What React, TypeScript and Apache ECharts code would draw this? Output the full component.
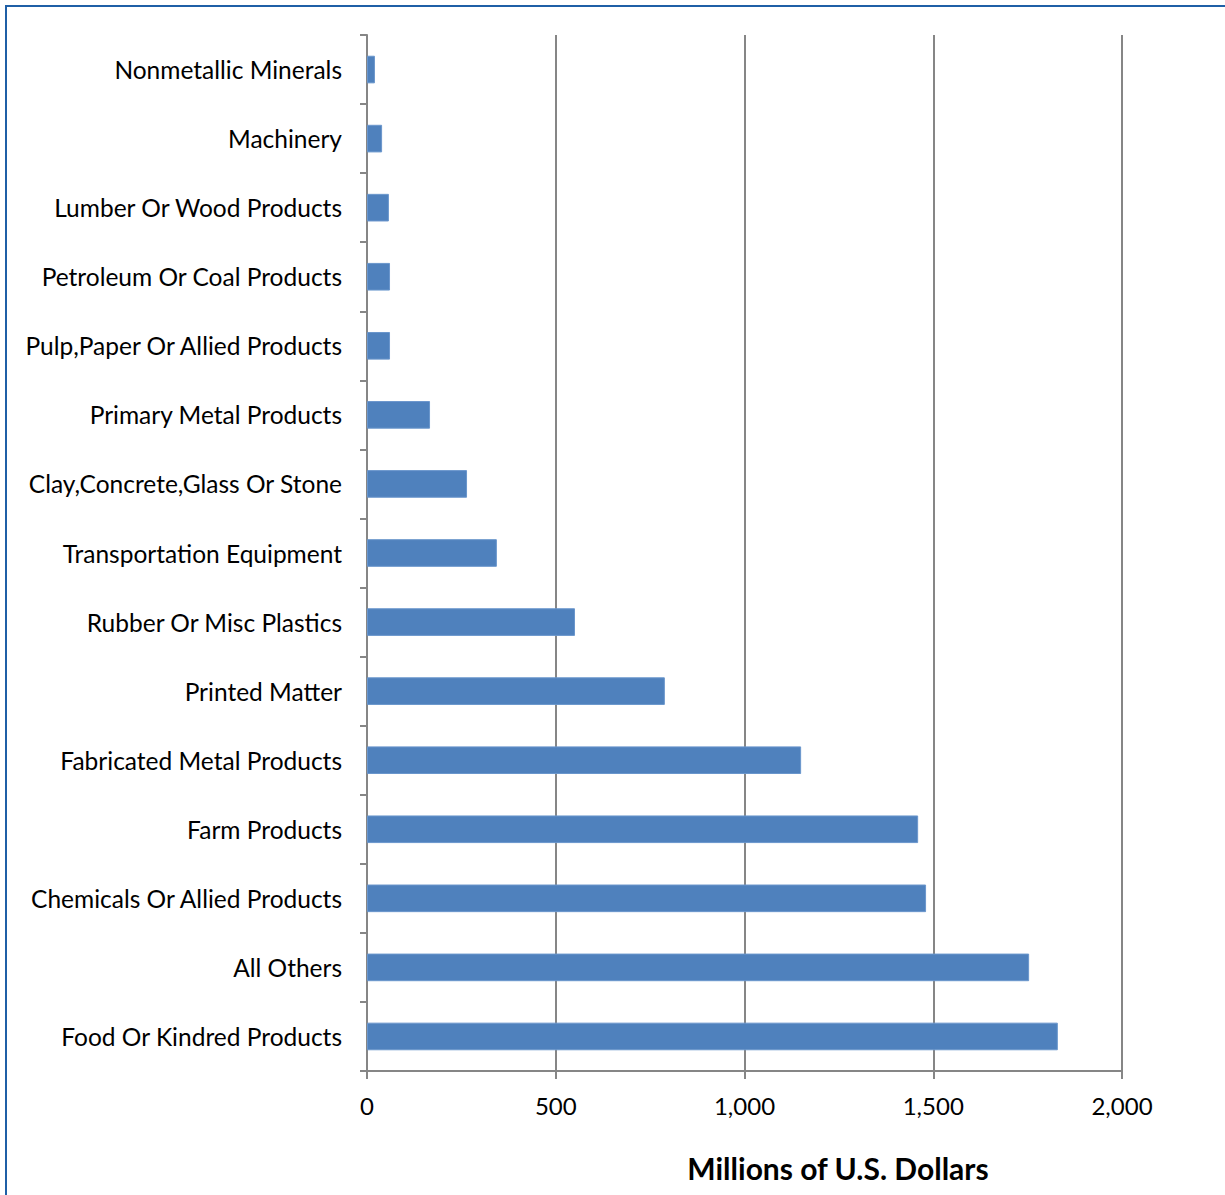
import React, { useEffect, useRef } from "react";
import * as echarts from "echarts";

const categories = [
  "Nonmetallic Minerals",
  "Machinery",
  "Lumber Or Wood Products",
  "Petroleum Or Coal Products",
  "Pulp,Paper Or Allied Products",
  "Primary Metal Products",
  "Clay,Concrete,Glass Or Stone",
  "Transportation Equipment",
  "Rubber Or Misc Plastics",
  "Printed Matter",
  "Fabricated Metal Products",
  "Farm Products",
  "Chemicals Or Allied Products",
  "All Others",
  "Food Or Kindred Products",
];

const values = [21, 40, 58, 61, 61, 167, 265, 344, 551, 789, 1150, 1460, 1481, 1754, 1830];

const xTicks = [0, 500, 1000, 1500, 2000];
const axisTitle = "Millions of U.S. Dollars";

const FONT = "Lato, 'Open Sans', sans-serif";

export default function App() {
  const ref = useRef<HTMLDivElement>(null);
  useEffect(() => {
    if (!ref.current) return;
    const chart = echarts.init(ref.current, null, { renderer: "svg" });
    chart.setOption({
      animation: false,
      backgroundColor: "#ffffff",
      grid: { left: 367, right: 103, top: 35, bottom: 124, containLabel: false },
      xAxis: {
        type: "value",
        min: xTicks[0],
        max: xTicks[xTicks.length - 1],
        interval: 500,
        axisLine: { show: true, lineStyle: { color: "#868686", width: 2 } },
        axisTick: { show: true, length: 8, lineStyle: { color: "#868686", width: 2 } },
        splitLine: { show: true, lineStyle: { color: "#868686", width: 2 } },
        axisLabel: {
          margin: 22,
          fontSize: 24,
          fontFamily: FONT,
          color: "#000",
          formatter: (v: number) => v.toLocaleString("en-US"),
        },
      },
      yAxis: {
        type: "category",
        data: categories,
        inverse: true,
        axisLine: { show: true, lineStyle: { color: "#868686", width: 2 } },
        axisTick: { show: true, length: 7, alignWithLabel: false, lineStyle: { color: "#868686", width: 2 } },
        splitLine: { show: false },
        axisLabel: { margin: 25, fontSize: 24.5, fontFamily: FONT, color: "#000" },
      },
      series: [
        {
          type: "bar",
          data: values,
          barCategoryGap: "60%",
          itemStyle: { color: "#4f81bd", borderColor: "#6a96cc", borderWidth: 1 },
        },
      ],
      graphic: [
        {
          type: "rect",
          shape: { x: 6, y: 6, width: 1240, height: 1220 },
          style: { fill: "none", stroke: "#1f5fa6", lineWidth: 2 },
          silent: true,
        },
        {
          type: "text",
          x: 838,
          y: 1168,
          style: {
            text: axisTitle,
            fontSize: 30,
            fontWeight: "bold",
            fontFamily: FONT,
            fill: "#000",
            textAlign: "center",
            textVerticalAlign: "middle",
          },
        },
      ],
    });
    return () => chart.dispose();
  }, []);
  return (
    <div
      ref={ref}
      style={{ position: "fixed", left: 0, top: 0, width: 1225, height: 1195 }}
    />
  );
}
